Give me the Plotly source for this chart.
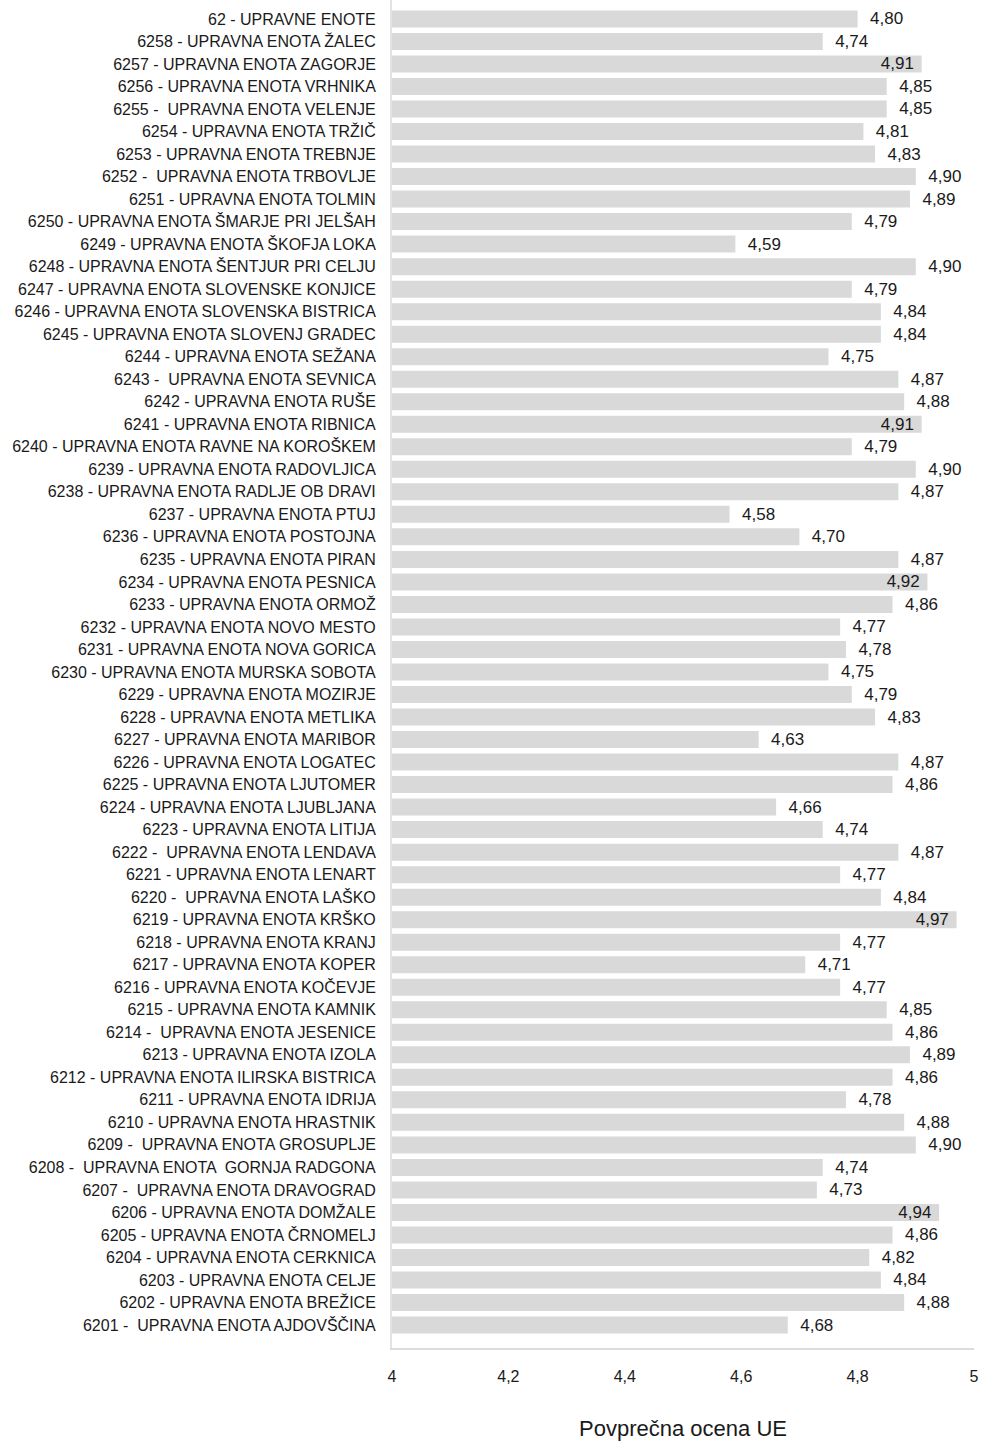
import plotly.graph_objects as go

categories = [
    "62 - UPRAVNE ENOTE",
    "6258 - UPRAVNA ENOTA ŽALEC",
    "6257 - UPRAVNA ENOTA ZAGORJE",
    "6256 - UPRAVNA ENOTA VRHNIKA",
    "6255 -  UPRAVNA ENOTA VELENJE",
    "6254 - UPRAVNA ENOTA TRŽIČ",
    "6253 - UPRAVNA ENOTA TREBNJE",
    "6252 -  UPRAVNA ENOTA TRBOVLJE",
    "6251 - UPRAVNA ENOTA TOLMIN",
    "6250 - UPRAVNA ENOTA ŠMARJE PRI JELŠAH",
    "6249 - UPRAVNA ENOTA ŠKOFJA LOKA",
    "6248 - UPRAVNA ENOTA ŠENTJUR PRI CELJU",
    "6247 - UPRAVNA ENOTA SLOVENSKE KONJICE",
    "6246 - UPRAVNA ENOTA SLOVENSKA BISTRICA",
    "6245 - UPRAVNA ENOTA SLOVENJ GRADEC",
    "6244 - UPRAVNA ENOTA SEŽANA",
    "6243 -  UPRAVNA ENOTA SEVNICA",
    "6242 - UPRAVNA ENOTA RUŠE",
    "6241 - UPRAVNA ENOTA RIBNICA",
    "6240 - UPRAVNA ENOTA RAVNE NA KOROŠKEM",
    "6239 - UPRAVNA ENOTA RADOVLJICA",
    "6238 - UPRAVNA ENOTA RADLJE OB DRAVI",
    "6237 - UPRAVNA ENOTA PTUJ",
    "6236 - UPRAVNA ENOTA POSTOJNA",
    "6235 - UPRAVNA ENOTA PIRAN",
    "6234 - UPRAVNA ENOTA PESNICA",
    "6233 - UPRAVNA ENOTA ORMOŽ",
    "6232 - UPRAVNA ENOTA NOVO MESTO",
    "6231 - UPRAVNA ENOTA NOVA GORICA",
    "6230 - UPRAVNA ENOTA MURSKA SOBOTA",
    "6229 - UPRAVNA ENOTA MOZIRJE",
    "6228 - UPRAVNA ENOTA METLIKA",
    "6227 - UPRAVNA ENOTA MARIBOR",
    "6226 - UPRAVNA ENOTA LOGATEC",
    "6225 - UPRAVNA ENOTA LJUTOMER",
    "6224 - UPRAVNA ENOTA LJUBLJANA",
    "6223 - UPRAVNA ENOTA LITIJA",
    "6222 -  UPRAVNA ENOTA LENDAVA",
    "6221 - UPRAVNA ENOTA LENART",
    "6220 -  UPRAVNA ENOTA LAŠKO",
    "6219 - UPRAVNA ENOTA KRŠKO",
    "6218 - UPRAVNA ENOTA KRANJ",
    "6217 - UPRAVNA ENOTA KOPER",
    "6216 - UPRAVNA ENOTA KOČEVJE",
    "6215 - UPRAVNA ENOTA KAMNIK",
    "6214 -  UPRAVNA ENOTA JESENICE",
    "6213 - UPRAVNA ENOTA IZOLA",
    "6212 - UPRAVNA ENOTA ILIRSKA BISTRICA",
    "6211 - UPRAVNA ENOTA IDRIJA",
    "6210 - UPRAVNA ENOTA HRASTNIK",
    "6209 -  UPRAVNA ENOTA GROSUPLJE",
    "6208 -  UPRAVNA ENOTA  GORNJA RADGONA",
    "6207 -  UPRAVNA ENOTA DRAVOGRAD",
    "6206 - UPRAVNA ENOTA DOMŽALE",
    "6205 - UPRAVNA ENOTA ČRNOMELJ",
    "6204 - UPRAVNA ENOTA CERKNICA",
    "6203 - UPRAVNA ENOTA CELJE",
    "6202 - UPRAVNA ENOTA BREŽICE",
    "6201 -  UPRAVNA ENOTA AJDOVŠČINA",
]

values = [
    4.80, 4.74, 4.91, 4.85, 4.85, 4.81, 4.83, 4.90, 4.89, 4.79,
    4.59, 4.90, 4.79, 4.84, 4.84, 4.75, 4.87, 4.88, 4.91, 4.79,
    4.90, 4.87, 4.58, 4.70, 4.87, 4.92, 4.86, 4.77, 4.78, 4.75,
    4.79, 4.83, 4.63, 4.87, 4.86, 4.66, 4.74, 4.87, 4.77, 4.84,
    4.97, 4.77, 4.71, 4.77, 4.85, 4.86, 4.89, 4.86, 4.78, 4.88,
    4.90, 4.74, 4.73, 4.94, 4.86, 4.82, 4.84, 4.88, 4.68,
]

x_ticks = [4, 4.2, 4.4, 4.6, 4.8, 5]
x_title = "Povprečna ocena UE"

FONT = "Liberation Sans, Arial, sans-serif"
NB = "\u00a0"
BASE = 4

# labels that would overflow the plot area are drawn inside the bar end
positions = ["inside" if v > 4.905 else "outside" for v in values]
texts = [
    (f"{v:.2f}".replace(".", ",") + NB) if p == "inside" else (NB * 2 + f"{v:.2f}".replace(".", ","))
    for v, p in zip(values, positions)
]

fig = go.Figure(
    go.Bar(
        x=[v - BASE for v in values],
        y=categories,
        orientation="h",
        base=BASE,
        marker=dict(color="#d9d9d9", line=dict(width=0)),
        text=texts,
        textposition=positions,
        insidetextanchor="end",
        textfont=dict(family=FONT, size=17, color="#1a1a1a"),
        insidetextfont=dict(family=FONT, size=17, color="#1a1a1a"),
        outsidetextfont=dict(family=FONT, size=17, color="#1a1a1a"),
        constraintext="none",
        cliponaxis=False,
        hoverinfo="skip",
    )
)

n = len(categories)
fig.update_layout(
    width=982,
    height=1441,
    margin=dict(l=392, r=8, t=0, b=93),
    paper_bgcolor="white",
    plot_bgcolor="white",
    bargap=0.245,
    showlegend=False,
    separators=", ",
    font=dict(family=FONT, color="#1a1a1a"),
    xaxis=dict(
        range=[4, 5],
        tickvals=x_ticks,
        ticktext=[str(t).replace(".", ",") for t in x_ticks],
        showgrid=False,
        zeroline=False,
        showline=True,
        linecolor="#dcdcdc",
        linewidth=2,
        ticks="",
        ticklabelstandoff=13,
        tickfont=dict(family=FONT, size=16, color="#1a1a1a"),
        title=dict(text=x_title, font=dict(family=FONT, size=22, color="#1a1a1a"), standoff=36),
        automargin=False,
    ),
    yaxis=dict(
        range=[n - 1 + 1.02, -0.84],
        showgrid=False,
        zeroline=False,
        showline=True,
        linecolor="#e3e3e3",
        linewidth=2,
        ticks="",
        ticklabelstandoff=11,
        tickfont=dict(family=FONT, size=16, color="#1a1a1a"),
        automargin=False,
    ),
)

fig.write_html(
    "out.html",
    config={"displayModeBar": False},
    post_script="document.body.style.margin='0';document.body.style.padding='0';",
)
